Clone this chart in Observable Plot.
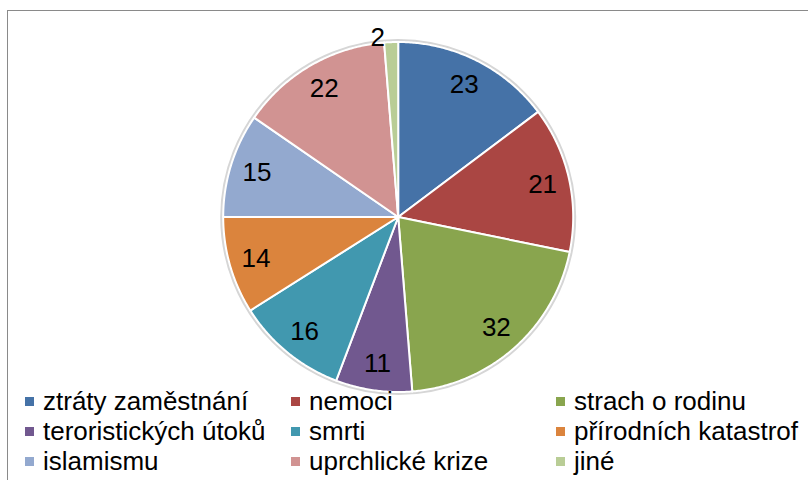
<!DOCTYPE html>
<html>
<head>
<meta charset="utf-8">
<script src="https://cdn.jsdelivr.net/npm/d3@7"></script>
<script src="https://cdn.jsdelivr.net/npm/@observablehq/plot@0.6"></script>
<style>
  html, body { margin: 0; padding: 0; background: #fff; }
  body { width: 808px; height: 480px; position: relative; overflow: hidden; font-family: "Liberation Sans", Arial, sans-serif; }
  #frame { position: absolute; left: 7px; top: 10px; width: 808px; height: 520px; border: 1.5px solid #8a8a8a; box-sizing: border-box; pointer-events: none; }
  #chart { position: absolute; left: 0; top: 0; }
  #legend { position: absolute; left: 0; top: 386px; width: 808px; }
  .row { display: flex; height: 30px; align-items: center; }
  .item { display: flex; align-items: center; font-size: 26px; color: #000; white-space: nowrap; }
  .sw { width: 9px; height: 9px; margin-right: 9px; flex: none; }
</style>
</head>
<body>
<div id="chart"></div>
<div id="legend"></div>
<div id="frame"></div>
<script>
const categories = ["ztráty zaměstnání", "nemoci", "strach o rodinu", "teroristických útoků", "smrti", "přírodních katastrof", "islamismu", "uprchlické krize", "jiné"];
const values = [23, 21, 32, 11, 16, 14, 15, 22, 2];
const colors = ["#4572A7", "#AA4643", "#89A54E", "#71588F", "#4198AF", "#DB843D", "#93A9CF", "#D19392", "#B9CD96"];

// layout (pixels)
const W = 808, H = 396, cx = 397.7, cy = 216.5, R = 175;
const total = d3.sum(values);

// slices: angle clockwise from top, y up, unit radius
let cum = 0;
const slices = categories.map((c, i) => {
  const a0 = cum / total * 2 * Math.PI;
  cum += values[i];
  const a1 = cum / total * 2 * Math.PI;
  return {cat: c, value: values[i], a0, a1, mid: (a0 + a1) / 2};
});

const polyPts = [];
for (const s of slices) {
  polyPts.push({cat: s.cat, x: 0, y: 0});
  const n = Math.max(2, Math.ceil((s.a1 - s.a0) / (Math.PI / 360)));
  for (let k = 0; k <= n; k++) {
    const t = s.a0 + (s.a1 - s.a0) * k / n;
    polyPts.push({cat: s.cat, x: Math.sin(t), y: Math.cos(t)});
  }
}

const inR = 148 / R, outR = (R + 4) / R;
const labels = slices.map(s => {
  const inside = (s.a1 - s.a0) * 148 > 22;
  const r = inside ? inR : outR;
  return {text: String(s.value), x: Math.sin(s.mid) * r, y: Math.cos(s.mid) * r, inside};
});

const chart = Plot.plot({
  width: W,
  height: H,
  margin: 0,
  x: {domain: [-cx / R, (W - cx) / R], axis: null},
  y: {domain: [-(H - cy) / R, cy / R], axis: null},
  color: {domain: categories, range: colors},
  style: {background: "transparent", fontFamily: "'Liberation Sans', Arial, sans-serif"},
  marks: [
    Plot.dot([{x: 0, y: 0}], {x: "x", y: "y", r: R + 1.5, fill: "white", stroke: "#d6d6d6", strokeWidth: 3}),
    Plot.line(polyPts, {x: "x", y: "y", z: "cat", fill: "cat", stroke: "white", strokeWidth: 2, strokeLinejoin: "round", curve: "linear-closed"}),
    Plot.text(labels.filter(d => d.inside), {x: "x", y: "y", text: "text", fontSize: 26, fill: "black"}),
    Plot.text(labels.filter(d => !d.inside), {x: "x", y: "y", text: "text", fontSize: 26, fill: "black", textAnchor: "end", dx: -6, dy: 0})
  ]
});
document.getElementById("chart").appendChild(chart);

// legend
const colStarts = [25, 291, 556];
const legend = d3.select("#legend");
for (let r = 0; r < 3; r++) {
  const row = legend.append("div").attr("class", "row");
  for (let c = 0; c < 3; c++) {
    const i = r * 3 + c;
    const w = c < 2 ? colStarts[c + 1] - colStarts[c] : W - colStarts[c];
    const item = row.append("div").attr("class", "item")
      .style("width", w + "px")
      .style("margin-left", c === 0 ? colStarts[0] + "px" : "0px");
    item.append("div").attr("class", "sw").style("background", colors[i]);
    item.append("span").text(categories[i]);
  }
}
</script>
</body>
</html>
